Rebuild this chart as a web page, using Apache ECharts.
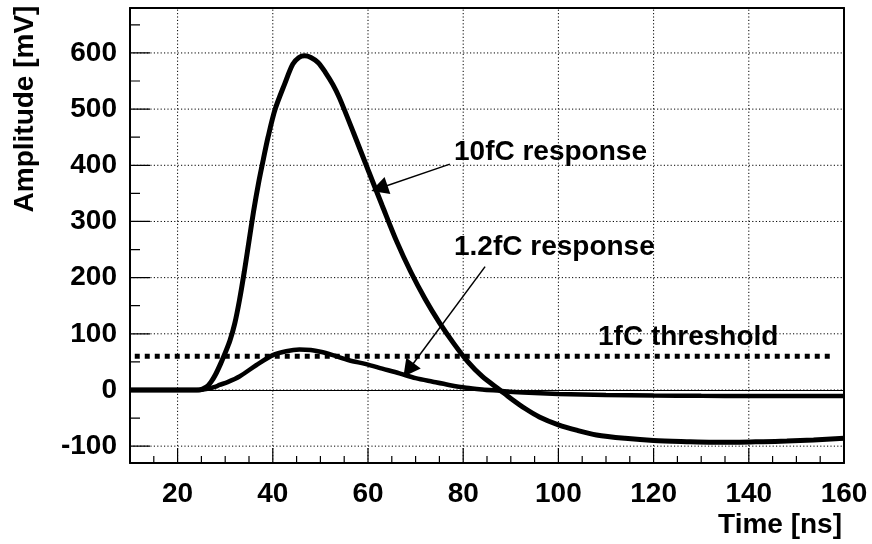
<!DOCTYPE html>
<html>
<head>
<meta charset="utf-8">
<script src="https://cdn.jsdelivr.net/npm/echarts@6/dist/echarts.min.js"></script>
<style>
html, body { margin: 0; padding: 0; background: #fff; }
#chart { width: 872px; height: 544px; }
</style>
</head>
<body>
<div id="chart"></div>
<script>
// Shaper output for a 10 fC input charge (time in ns, amplitude in mV)
const time10fC = [10, 20, 24.5, 26, 27, 28, 29, 30, 31, 32, 33, 34, 35, 36, 37, 38, 39, 40.5, 42.5, 44.2, 45.5, 46.7, 48, 49.5, 51, 52.6, 54, 57, 60, 63, 66, 69, 72, 75, 78, 81, 84, 87.7, 90, 93, 96, 100, 104, 108, 114, 120, 127, 132.5, 138, 143, 148, 153.6, 160];
const amp10fC  = [0, 0, 0, 5, 14, 28, 46, 66, 88, 118, 160, 210, 265, 320, 368, 410, 450, 500, 545, 580, 592, 595, 592, 583, 566, 544, 520, 457, 392, 328, 265, 210, 162, 120, 83, 50, 24, 0, -15, -33, -48, -62, -72, -80, -86, -90, -92, -93, -93, -92, -91, -89, -86];

// Shaper output for a 1.2 fC input charge
const time1p2fC = [10, 20, 24, 26, 28, 28.8, 30.5, 33, 36.5, 40, 42.8, 45.6, 48, 50, 52.6, 56, 59.6, 63, 66.6, 70, 73.6, 77, 80.6, 84, 87.7, 90.5, 95, 100, 110, 120, 130, 140, 150, 160];
const amp1p2fC  = [0, 0, 0, 1.5, 6, 9, 14, 24, 44, 62, 69, 72, 71, 68, 62, 53, 46, 38, 29.6, 21, 14.7, 9, 4, 1, -1.5, -3.5, -5.5, -7, -9, -10, -10.5, -10.6, -10.6, -10.6];

// Discriminator threshold equivalent to 1 fC
const thresholdTime = [11, 158];
const thresholdLevel = 60;

// Axis ranges and ticks
const xRange = [10, 160];
const yRange = [-130, 680];
const xMajorTicks = [20, 40, 60, 80, 100, 120, 140, 160];
const xMinorTicks = [15, 25, 30, 35, 45, 50, 55, 65, 70, 75, 85, 90, 95, 105, 110, 115, 125, 130, 135, 145, 150, 155];
const yMajorTicks = [-100, 0, 100, 200, 300, 400, 500, 600];
const yMinorTicks = [-50, 50, 150, 250, 350, 450, 550, 650];

// Annotation arrows: [tail, head] in (ns, mV)
const arrow10fC  = [[77.2, 402], [62.4, 359]];
const arrow1p2fC = [[84.6, 219.5], [68.5, 35.6]];

const CW = 872, CH = 544;
const GRID = { left: 130, right: 28, top: 8, bottom: 81 };
const pxPerNs = (CW - GRID.left - GRID.right) / (xRange[1] - xRange[0]);
const pxPerMv = (CH - GRID.top - GRID.bottom) / (yRange[1] - yRange[0]);

const FONT = "'Liberation Sans', Arial, Helvetica, sans-serif";
const FS = 28;
const labelFont = { color: '#000', fontFamily: FONT, fontWeight: 'bold', fontSize: FS };
const pairs = (xs, ys) => xs.map((x, i) => [x, ys[i]]);
const frameLine = { show: true, onZero: false, lineStyle: { color: '#000', width: 2 } };

// Builds one broken polyline: a short inward segment per tick, or a full-span segment for grid lines
function segments(axis, ticks, lengthPx) {
  const out = [];
  ticks.forEach(v => {
    if (axis === 'x') {
      const top = lengthPx == null ? yRange[1] : yRange[0] + lengthPx / pxPerMv;
      out.push([v, yRange[0]], [v, top], '-');
    } else {
      const right = lengthPx == null ? xRange[1] : xRange[0] + lengthPx / pxPerNs;
      out.push([xRange[0], v], [right, v], '-');
    }
  });
  return out;
}

function guideSeries(data, lineStyle) {
  return {
    type: 'line',
    data: data,
    showSymbol: false,
    symbol: 'none',
    silent: true,
    connectNulls: false,
    z: 3,
    lineStyle: Object.assign({ color: '#000', cap: 'butt' }, lineStyle),
    emphasis: { disabled: true }
  };
}

const arrowMark = (seg) => ({
  silent: true,
  symbol: ['none', 'triangle'],
  symbolSize: [18, 17],
  lineStyle: { color: '#000', width: 1.5, type: 'solid' },
  itemStyle: { color: '#000' },
  label: { show: false },
  emphasis: { disabled: true },
  data: [[{ coord: seg[0] }, { coord: seg[1] }]]
});

const chart = echarts.init(document.getElementById('chart'), null, { renderer: 'canvas' });

const dotted = { width: 1, type: [1.2, 2.2] };
const solidTick = { width: 1.2, type: 'solid' };

chart.setOption({
  animation: false,
  backgroundColor: '#fff',
  grid: Object.assign({ show: false }, GRID),
  xAxis: [
    {
      type: 'value', min: xRange[0], max: xRange[1], position: 'bottom',
      axisLine: frameLine,
      axisTick: { show: false },
      axisLabel: Object.assign({ customValues: xMajorTicks, margin: 17 }, labelFont),
      splitLine: { show: false }
    },
    {
      type: 'value', min: xRange[0], max: xRange[1], position: 'top',
      axisLine: frameLine, axisTick: { show: false }, axisLabel: { show: false }, splitLine: { show: false }
    }
  ],
  yAxis: [
    {
      type: 'value', min: yRange[0], max: yRange[1], position: 'left',
      axisLine: frameLine,
      axisTick: { show: false },
      axisLabel: Object.assign({ customValues: yMajorTicks, margin: 13 }, labelFont),
      splitLine: { show: false }
    },
    {
      type: 'value', min: yRange[0], max: yRange[1], position: 'right',
      axisLine: frameLine, axisTick: { show: false }, axisLabel: { show: false }, splitLine: { show: false }
    }
  ],
  series: [
    guideSeries(segments('x', xMajorTicks.filter(t => t < xRange[1]), null), dotted),
    guideSeries(segments('y', yMajorTicks, null), dotted),
    guideSeries(segments('x', xMajorTicks, 15), solidTick),
    guideSeries(segments('x', xMinorTicks, 7), solidTick),
    guideSeries(segments('y', yMajorTicks, 20), solidTick),
    guideSeries(segments('y', yMinorTicks, 10), solidTick),
    {
      name: '1fC threshold',
      type: 'line',
      data: thresholdTime.map(t => [t, thresholdLevel]),
      showSymbol: false,
      silent: true,
      z: 5,
      lineStyle: { color: '#000', width: 5, type: [5, 5], cap: 'butt' },
      markLine: {
        silent: true,
        symbol: 'none',
        label: { show: false },
        lineStyle: { color: '#000', width: 1, type: 'solid' },
        data: [{ yAxis: 0 }]
      }
    },
    {
      name: '10fC response',
      type: 'line',
      data: pairs(time10fC, amp10fC),
      showSymbol: false,
      silent: true,
      smooth: 0.3,
      z: 6,
      lineStyle: { color: '#000', width: 5 },
      markLine: arrowMark(arrow10fC)
    },
    {
      name: '1.2fC response',
      type: 'line',
      data: pairs(time1p2fC, amp1p2fC),
      showSymbol: false,
      silent: true,
      smooth: 0.3,
      z: 6,
      lineStyle: { color: '#000', width: 4.5 },
      markLine: arrowMark(arrow1p2fC)
    }
  ],
  graphic: [
    {
      type: 'text', x: 454, y: 152, silent: true,
      style: { text: '10fC response', fill: '#000', font: 'bold ' + FS + 'px ' + FONT, textVerticalAlign: 'middle', verticalAlign: 'middle' }
    },
    {
      type: 'text', x: 454, y: 247, silent: true,
      style: { text: '1.2fC response', fill: '#000', font: 'bold ' + FS + 'px ' + FONT, textVerticalAlign: 'middle', verticalAlign: 'middle' }
    },
    {
      type: 'text', x: 598, y: 337, silent: true,
      style: { text: '1fC threshold', fill: '#000', font: 'bold ' + FS + 'px ' + FONT, textVerticalAlign: 'middle', verticalAlign: 'middle' }
    },
    {
      type: 'text', x: 842, y: 525, silent: true,
      style: { text: 'Time [ns]', fill: '#000', font: 'bold ' + FS + 'px ' + FONT, textAlign: 'right', align: 'right', textVerticalAlign: 'middle', verticalAlign: 'middle' }
    },
    {
      type: 'text', x: 25, y: 109, rotation: Math.PI / 2, silent: true,
      style: { text: 'Amplitude [mV]', fill: '#000', font: 'bold ' + FS + 'px ' + FONT, textAlign: 'center', align: 'center', textVerticalAlign: 'middle', verticalAlign: 'middle' }
    }
  ]
});
</script>
</body>
</html>
